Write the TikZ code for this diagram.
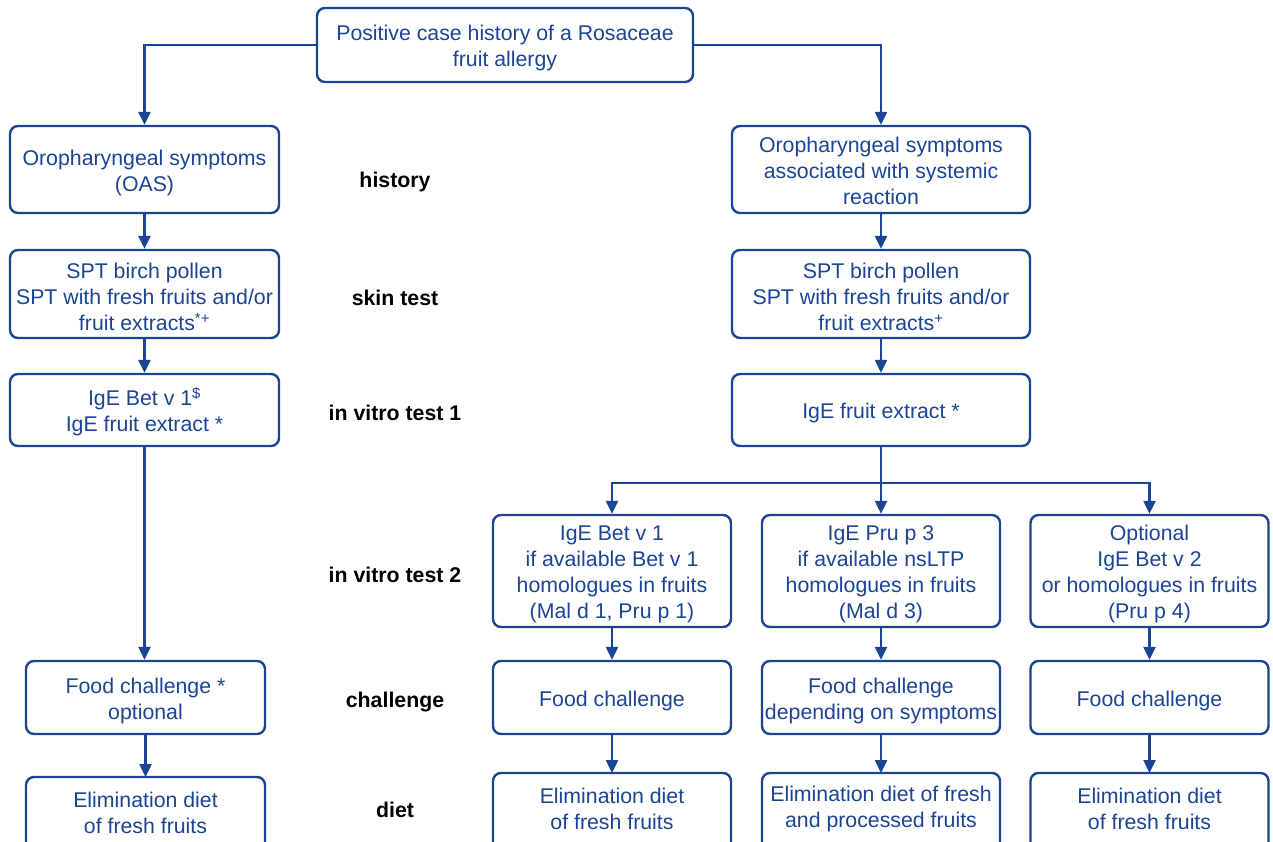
\documentclass[tikz,border=0pt]{standalone}
\usepackage{fontspec}
\setmainfont{Liberation Sans}
\usetikzlibrary{arrows.meta}
\definecolor{bl}{RGB}{28,68,148}
\newcommand\fl{\rule{0pt}{21.5pt}}
\tikzset{
  x=1pt,y=-1pt,
  box/.style={draw=bl,line width=2.4pt,rounded corners=8pt,text=bl,align=center,
    font=\fontsize{21.3}{26}\selectfont,inner sep=0pt},
  cutbox/.style={box,draw=none,outer sep=0pt},
  frame/.style={draw=bl,line width=2.4pt,rounded corners=8pt},
  lab/.style={font=\fontsize{21.3}{26}\selectfont\bfseries,text=black},
  conn/.style={draw=bl,line width=2.4pt},
  arr/.style={conn,-{Triangle[length=13pt,width=12pt]}},
}
\begin{document}
\begin{tikzpicture}
\useasboundingbox (0,0) rectangle (1273,842);
\clip (0,0) rectangle (1273,842);
% top
\node[box,minimum width=376pt,minimum height=74pt] (top) at (505,45) {\fl Positive case history of a Rosaceae\\fruit allergy};
% history
\node[box,minimum width=269pt,minimum height=87pt] (oas) at (144.5,169.5) {\fl Oropharyngeal symptoms\\(OAS)};
\node[box,minimum width=298pt,minimum height=87pt] (hr) at (881,169.5) {\rule{0pt}{17.5pt}Oropharyngeal symptoms\\associated with systemic\\reaction};
% skin test
\node[box,minimum width=269pt,minimum height=88pt] (sptL) at (144.5,294) {\fl SPT birch pollen\\SPT with fresh fruits and/or\\fruit extracts\textsuperscript{*+}};
\node[box,minimum width=298pt,minimum height=88pt] (sptR) at (881,294) {\fl SPT birch pollen\\SPT with fresh fruits and/or\\fruit extracts\textsuperscript{+}};
% in vitro 1
\node[box,minimum width=269pt,minimum height=72pt] (igeL) at (144.5,410) {\fl IgE Bet v 1\textsuperscript{\$}\\IgE fruit extract *};
\node[box,minimum width=298pt,minimum height=72pt] (igeR) at (881,410) {\fl IgE fruit extract *};
% in vitro 2
\node[box,minimum width=238pt,minimum height=112pt] (v1) at (612,571) {\fl IgE Bet v 1\\if available Bet v 1\\homologues in fruits\\(Mal d 1, Pru p 1)};
\node[box,minimum width=238pt,minimum height=112pt] (v2) at (881,571) {\fl IgE Pru p 3\\if available nsLTP\\homologues in fruits\\(Mal d 3)};
\node[box,minimum width=238pt,minimum height=112pt] (v3) at (1149.5,571) {\fl Optional\\IgE Bet v 2\\or homologues in fruits\\(Pru p 4)};
% challenge
\node[box,minimum width=239pt,minimum height=73pt] (fcL) at (145.5,697.5) {\fl Food challenge *\\optional};
\node[box,minimum width=238pt,minimum height=73pt] (fc1) at (612,697.5) {\fl Food challenge};
\node[box,minimum width=238pt,minimum height=73pt] (fc2) at (881,697.5) {\fl Food challenge\\depending on symptoms};
\node[box,minimum width=238pt,minimum height=73pt] (fc3) at (1149.5,697.5) {\fl Food challenge};
% diet (boxes run past the lower edge)
\node[cutbox,minimum width=239pt,minimum height=66pt] (dL) at (145.5,810) {\fl Elimination diet\\of fresh fruits};
\node[cutbox,minimum width=238pt,minimum height=66pt] (d1) at (612,806) {\fl Elimination diet\\of fresh fruits};
\node[cutbox,minimum width=238pt,minimum height=66pt] (d2) at (881,806) {\fl Elimination diet of fresh\\and processed fruits};
\node[cutbox,minimum width=238pt,minimum height=66pt] (d3) at (1149.5,806) {\fl Elimination diet\\of fresh fruits};
\foreach \n in {dL,d1,d2,d3}
  \draw[frame] (\n.north west) rectangle ([yshift=-30pt]\n.south east);
% labels
\node[lab] (l1) at (395,182) {history};
\node[lab] (l2) at (395,298) {skin test};
\node[lab] (l3) at (395,413) {in vitro test 1};
\node[lab] (l4) at (395,575) {in vitro test 2};
\node[lab] (l5) at (395,702) {challenge};
\node[lab] (l6) at (395,810) {diet};
% connectors
\draw[arr] (top.west) -| (oas.north);
\draw[arr] (top.east) -| (hr.north);
\draw[arr] (oas.south) -- (sptL.north);
\draw[arr] (sptL.south) -- (igeL.north);
\draw[arr] (igeL.south) -- (igeL.south |- fcL.north);
\draw[arr] (fcL.south) -- (dL.north);
\draw[arr] (hr.south) -- (sptR.north);
\draw[arr] (sptR.south) -- (igeR.north);
\draw[conn] (igeR.south) -- ++(0,36) coordinate (split);
\draw[arr] (split) -| (v1.north);
\draw[arr] (split) -| (v3.north);
\draw[arr] (igeR.south) -- (v2.north);
\draw[arr] (v1.south) -- (fc1.north);
\draw[arr] (v2.south) -- (fc2.north);
\draw[arr] (v3.south) -- (fc3.north);
\draw[arr] (fc1.south) -- (d1.north);
\draw[arr] (fc2.south) -- (d2.north);
\draw[arr] (fc3.south) -- (d3.north);
\end{tikzpicture}
\end{document}
